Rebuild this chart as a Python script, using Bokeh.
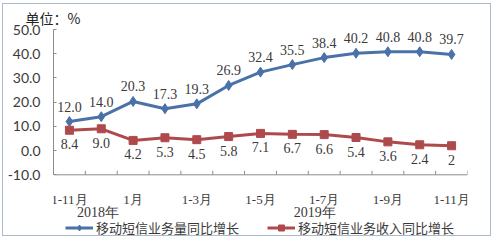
import math
from bokeh.plotting import figure
from bokeh.models import (ColumnDataSource, LinearAxis, FixedTicker, NumeralTickFormatter,
                          Range1d, Legend, LegendItem, LabelSet, Span)
from bokeh.embed import file_html
from bokeh.resources import INLINE

# ---- data ----
categories = ["1-11月", "1-12月", "1月", "1-2月", "1-3月", "1-4月", "1-5月",
              "1-6月", "1-7月", "1-8月", "1-9月", "1-10月", "1-11月"]
shown_every = 2
volume_growth = [12.0, 14.0, 20.3, 17.3, 19.3, 26.9, 32.4, 35.5, 38.4, 40.2, 40.8, 40.8, 39.7]
revenue_growth = [8.4, 9.0, 4.2, 5.3, 4.5, 5.8, 7.1, 6.7, 6.6, 5.4, 3.6, 2.4, 2.0]
volume_text = ["12.0", "14.0", "20.3", "17.3", "19.3", "26.9", "32.4", "35.5", "38.4",
               "40.2", "40.8", "40.8", "39.7"]
revenue_text = ["8.4", "9.0", "4.2", "5.3", "4.5", "5.8", "7.1", "6.7", "6.6", "5.4",
                "3.6", "2.4", "2"]
year_labels = ["2018年", "2019年"]
year_pos = [0.9, 7.7]
series_names = ["移动短信业务量同比增长", "移动短信业务收入同比增长"]
y_min, y_max = -10, 50
y_ticks = [-10, 0, 10, 20, 30, 40, 50]

BLUE = "#4A71A8"
RED = "#AE4A4C"
AXIS = "#8C8C8C"
TXT = "#3A3A3A"
NUM_FONT = "Lato"
SERIF = "Liberation Serif, Noto Sans CJK SC"
CJK = "Noto Sans CJK SC"

# layout (pixels)
W, H = 489, 233
LEFT, RIGHT, TOP = 50, 25, 24
AXIS_PX = 146          # pixel height of the -10..50 value span
BELOW_PX = H - TOP - AXIS_PX   # room under the value axis for labels and legend
y_lo = y_min - BELOW_PX * (y_max - y_min) / AXIS_PX

n = len(categories)
xs = list(range(n))
src = ColumnDataSource(dict(x=xs, vol=volume_growth, rev=revenue_growth,
                            vt=volume_text, rt=revenue_text))

p = figure(width=W, height=H, output_backend="svg", toolbar_location=None,
           x_axis_type=None, y_axis_type=None,
           x_range=Range1d(-0.5, n - 0.5), y_range=Range1d(y_lo, y_max),
           min_border_left=LEFT, min_border_right=RIGHT, min_border_top=TOP, min_border_bottom=0,
           styles={"border": "1px solid #A9BCCF", "margin-left": "2px", "margin-top": "3px"})
p.outline_line_color = None
p.xgrid.visible = False
p.ygrid.visible = False
p.background_fill_color = "white"
p.border_fill_color = "white"

# title
p.title.text = "单位：%"
p.title.align = "left"
p.title.offset = -28
p.title.standoff = 3
p.title.text_font = CJK
p.title.text_font_size = "14px"
p.title.text_font_style = "normal"
p.title.text_color = "#222222"

# y axis (limited to the value span)
yax = LinearAxis(ticker=FixedTicker(ticks=y_ticks, minor_ticks=[]),
                 formatter=NumeralTickFormatter(format="0.0"), bounds=(y_min, y_max))
yax.axis_line_color = AXIS
yax.major_tick_line_color = AXIS
yax.major_tick_in = 3
yax.major_tick_out = 0
yax.minor_tick_line_color = None
yax.major_label_standoff = 13
yax.major_label_text_font = NUM_FONT
yax.major_label_text_font_size = "14px"
yax.major_label_text_color = TXT
p.add_layout(yax, "left")

# category axis at y = y_min
p.add_layout(Span(location=y_min, dimension="width", line_color=AXIS, line_width=1))
bounds_x = [i - 0.5 for i in range(n + 1)]
p.ray(x=bounds_x, y=[y_min] * len(bounds_x), length=4, length_units="screen",
      angle=math.pi / 2, line_color=AXIS, line_width=1)

major = [i for i in xs if i % shown_every == 0]
cat_src = ColumnDataSource(dict(x=major, y=[y_min] * len(major), t=[categories[i] for i in major]))
p.add_layout(LabelSet(x="x", y="y", text="t", source=cat_src, text_align="center",
                      text_baseline="middle", y_offset=-25, text_font=SERIF,
                      text_font_size="13px", text_color=TXT))
yr_src = ColumnDataSource(dict(x=year_pos, y=[y_min] * len(year_pos), t=year_labels))
p.add_layout(LabelSet(x="x", y="y", text="t", source=yr_src, text_align="center",
                      text_baseline="middle", y_offset=-38, text_font=SERIF,
                      text_font_size="14px", text_color=TXT))

# series
l1 = p.line("x", "vol", source=src, line_color=BLUE, line_width=3)
m1 = p.scatter("x", "vol", source=src, marker="diamond", size=10, fill_color=BLUE, line_color=BLUE)
l2 = p.line("x", "rev", source=src, line_color=RED, line_width=3)
m2 = p.scatter("x", "rev", source=src, marker="square", size=8, fill_color=RED, line_color=RED)

p.add_layout(LabelSet(x="x", y="vol", text="vt", source=src, text_align="center",
                      text_baseline="bottom", y_offset=10, text_font=NUM_FONT,
                      text_font_size="14px", text_color=TXT))
p.add_layout(LabelSet(x="x", y="rev", text="rt", source=src, text_align="center",
                      text_baseline="top", y_offset=-9, text_font=NUM_FONT,
                      text_font_size="14px", text_color=TXT))

legend = Legend(items=[LegendItem(label=series_names[0], renderers=[l1, m1]),
                       LegendItem(label=series_names[1], renderers=[l2, m2])],
                orientation="horizontal", location=(12, 0),
                glyph_width=28, glyph_height=15, label_standoff=3, spacing=28,
                padding=0, margin=0, border_line_color=None, background_fill_alpha=0,
                label_text_font=CJK, label_text_font_size="13px", label_text_color=TXT,
                label_height=15)
p.add_layout(legend, "center")

open("out.html", "w").write(file_html(p, INLINE))
